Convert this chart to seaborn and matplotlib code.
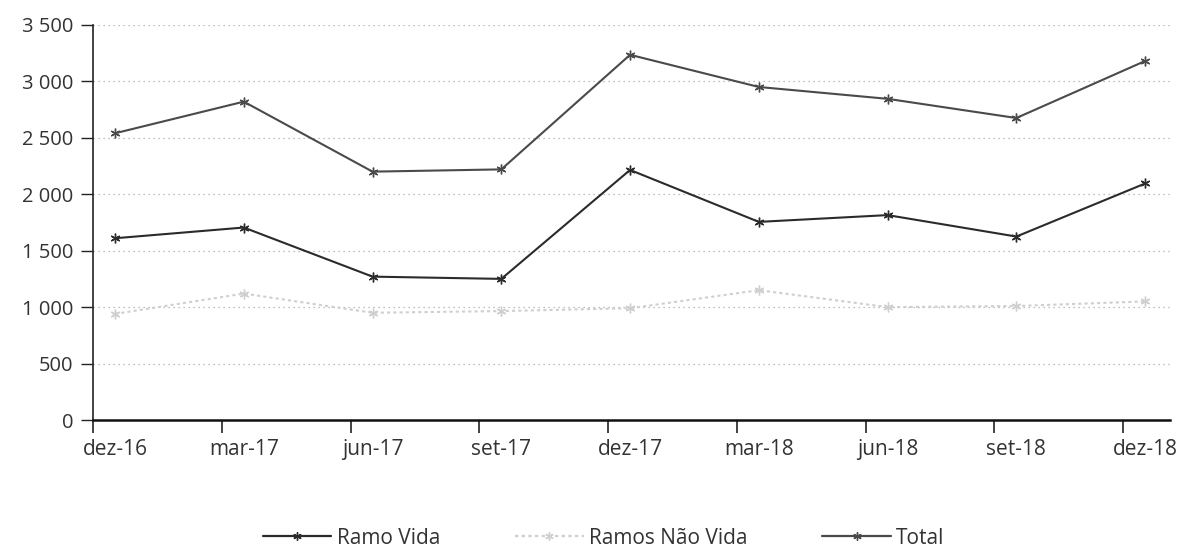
import numpy as np
import pandas as pd
import matplotlib
matplotlib.use("Agg")
import matplotlib.pyplot as plt
import seaborn as sns

# Quarterly values
periods = ["dez-16", "mar-17", "jun-17", "set-17", "dez-17",
           "mar-18", "jun-18", "set-18", "dez-18"]
ramo_vida = [1610, 1705, 1270, 1250, 2215, 1755, 1815, 1625, 2095]
ramos_nao_vida = [940, 1120, 950, 965, 990, 1150, 1000, 1010, 1050]
total = [2540, 2820, 2200, 2220, 3235, 2950, 2845, 2675, 3180]
y_ticks = [0, 500, 1000, 1500, 2000, 2500, 3000, 3500]

series_names = ["Ramo Vida", "Ramos Não Vida", "Total"]
colors = {"Ramo Vida": "#2b2b2b", "Ramos Não Vida": "#cfcfcf", "Total": "#4a4a4a"}

df = pd.DataFrame({
    "pos": list(range(len(periods))) * 3,
    "valor": ramo_vida + ramos_nao_vida + total,
    "serie": (["Ramo Vida"] * len(periods) + ["Ramos Não Vida"] * len(periods)
              + ["Total"] * len(periods)),
})

sns.set_theme(style="white")
plt.rcParams['font.family'] = ['Open Sans', 'DejaVu Sans']

fig = plt.figure(figsize=(11.79, 5.53), dpi=100)
ax = fig.add_axes([0.079, 0.2405, 0.913, 0.7145])

sns.lineplot(data=df, x="pos", y="valor", hue="serie", hue_order=series_names,
             palette=colors, marker=(6, 2, 0), markersize=7, linewidth=1.5,
             ax=ax, legend=False)
for line, name in zip(ax.lines, series_names):
    line.set_markeredgecolor(colors[name])
    line.set_markeredgewidth(1.0)
    if name == "Ramos Não Vida":
        # very faint, dotted in the scan
        line.set_linestyle((0, (1.5, 1.5)))

offset = 0.17
ax.set_xlim(-offset, len(periods) - 1 + 0.19)
ax.set_ylim(0, 3500)
ax.set_yticks(y_ticks)
ax.set_yticklabels([f"{v:,}".replace(",", " ") for v in y_ticks])
ax.set_xticks(range(len(periods)))
ax.set_xticklabels(periods)
ax.set_xticks([i - offset for i in range(len(periods))], minor=True)
ax.tick_params(axis="x", which="major", bottom=False, length=0, pad=14,
               labelsize=15, colors="#333333")
ax.tick_params(axis="x", which="minor", bottom=True, length=9, width=1.2,
               direction="out", color="#222222")
ax.tick_params(axis="y", left=True, length=9, width=1, direction="out", color="#222222",
               labelsize=14.5, labelcolor="#333333", pad=5)
ax.set_xlabel("")
ax.set_ylabel("")

ax.yaxis.grid(True, linestyle=(0, (1, 3)), color="#aaaaaa", linewidth=0.9)
ax.xaxis.grid(False)
for side in ["top", "right"]:
    ax.spines[side].set_visible(False)
ax.spines["left"].set_color("#222222")
ax.spines["left"].set_linewidth(1.2)
ax.spines["bottom"].set_color("#111111")
ax.spines["bottom"].set_linewidth(1.8)

handles = [plt.Line2D([], [], color=colors[n], marker=(6, 2, 0), markersize=6,
                      markeredgecolor=colors[n], linewidth=1.6,
                      linestyle=(0, (1.5, 1.5)) if n == "Ramos Não Vida" else "-")
           for n in series_names]
fig.legend(handles, series_names, loc="center", bbox_to_anchor=(0.512, 0.027),
           ncol=3, frameon=False, handlelength=3.3, handletextpad=0.25,
           columnspacing=3.6, fontsize=15, labelcolor="#333333")

fig.savefig("out.png", dpi=100)
